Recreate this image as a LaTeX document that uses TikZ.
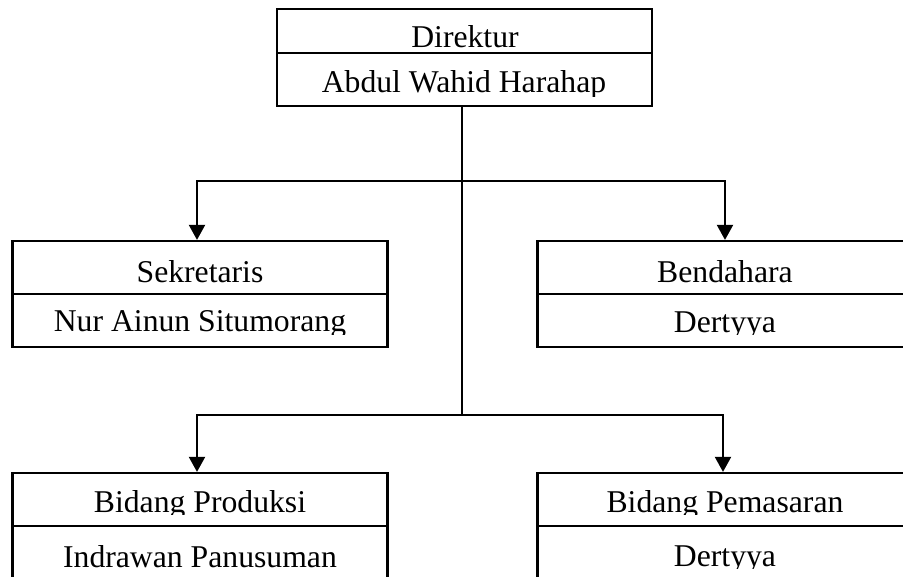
\documentclass[tikz,border=0pt]{standalone}
\usepackage{fontspec}
\setmainfont{Liberation Serif}
\usetikzlibrary{arrows.meta}
\begin{document}
\begin{tikzpicture}[x=1pt,y=-1pt,
  cell/.style={draw,line width=2.2pt,inner sep=0pt,minimum width=375pt},
  lbl/.style={anchor=base,inner sep=0pt,font=\fontsize{31.7}{38}\selectfont},
  conn/.style={line width=2pt},
  arr/.style={conn,-{Triangle[width=16pt,length=15pt]}}]
\useasboundingbox (0,0) rectangle (903,577);
% boxes
\node[cell,minimum height=44pt] (dirT) at (464.5,31) {};
\node[cell,minimum height=53pt] (dirB) at (464.5,79.5) {};
\node[cell,minimum height=53pt] (sekT) at (200,267.5) {};
\node[cell,minimum height=53pt] (sekB) at (200,320.5) {};
\node[cell,minimum height=53pt] (benT) at (725,267.5) {};
\node[cell,minimum height=53pt] (benB) at (725,320.5) {};
\node[cell,minimum height=53pt] (proT) at (200,499.5) {};
\node[cell,minimum height=74pt] (proB) at (200,563) {};
\node[cell,minimum height=53pt] (pemT) at (725,499.5) {};
\node[cell,minimum height=74pt] (pemB) at (725,563) {};
% texts
\node[lbl] (tDir) at (465,48) {Direktur};
\begin{scope}\clip (270,55) rectangle (660,97);
\node[lbl] (tAbd) at (464,93) {Abdul Wahid Harahap};\end{scope}
\node[lbl] (tSek) at (200,283) {Sekretaris};
\begin{scope}\clip (10,296) rectangle (390,335);
\node[lbl] (tNur) at (200,332) {Nur Ainun Situmorang};\end{scope}
\node[lbl] (tBen) at (725,283) {Bendahara};
\begin{scope}\clip (540,296) rectangle (903,335);
\node[lbl] (tDe1) at (725,333) {Dertyya};\end{scope}
\begin{scope}\clip (10,475) rectangle (390,514);
\node[lbl] (tPro) at (200,512) {Bidang Produksi};\end{scope}
\node[lbl] (tInd) at (200,567) {Indrawan Panusuman};
\begin{scope}\clip (540,475) rectangle (903,514);
\node[lbl] (tPem) at (725,512) {Bidang Pemasaran};\end{scope}
\begin{scope}\clip (540,528) rectangle (903,568);
\node[lbl] (tDe2) at (725,566) {Dertyya};\end{scope}
% connectors
\coordinate (j1) at (462,181);
\coordinate (j2) at (462,415);
\draw[conn] (dirB.south -| j1) -- (j2);
\draw[arr] (j1) -| ([xshift=-3pt]sekT.north);
\draw[arr] (j1) -| (benT.north);
\draw[arr] (j2) -| ([xshift=-3pt]proT.north);
\draw[arr] (j2) -| ([xshift=-2pt]pemT.north);
\end{tikzpicture}
\end{document}
